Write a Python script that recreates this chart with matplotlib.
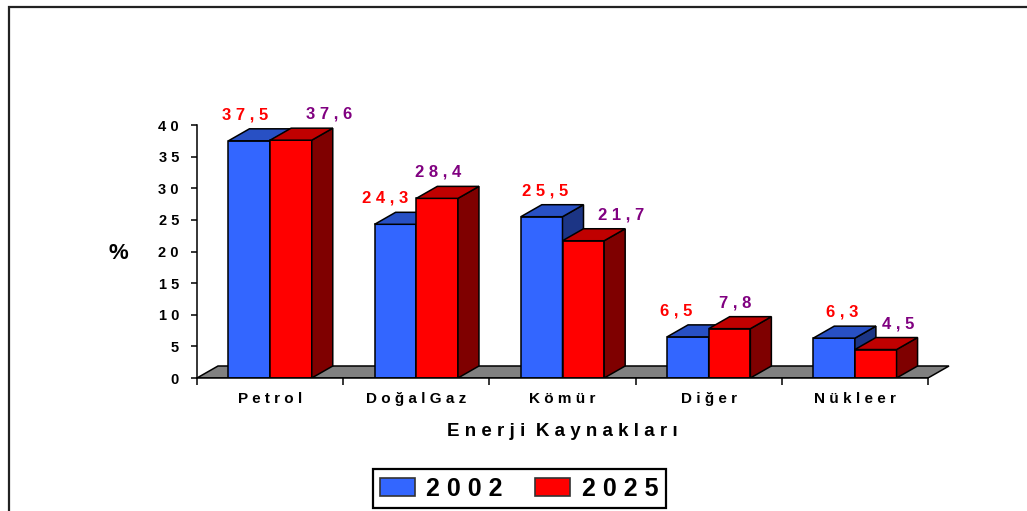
import matplotlib
matplotlib.use('Agg')
import matplotlib.pyplot as plt
from matplotlib.patches import Polygon, Rectangle, Patch
from matplotlib.ticker import FixedLocator, FixedFormatter

# ---------------- data ----------------
categories = ['Petrol', 'Doğal Gaz', 'Kömür', 'Diğer', 'Nükleer']
series_names = ['2002', '2025']
values_2002 = [37.5, 24.3, 25.5, 6.5, 6.3]
values_2025 = [37.6, 28.4, 21.7, 7.8, 4.5]
label_2002 = ['37,5', '24,3', '25,5', '6,5', '6,3']
label_2025 = ['37,6', '28,4', '21,7', '7,8', '4,5']
yticks = [0, 5, 10, 15, 20, 25, 30, 35, 40]
x_title = 'Enerji Kaynakları'
y_title = '%'

# ---------------- style / layout ----------------
plt.rcParams['font.family'] = ['Liberation Sans', 'DejaVu Sans']
plt.rcParams['font.weight'] = 'bold'

W, H = 1027, 511
fig = plt.figure(figsize=(W / 100, H / 100), dpi=100)
fig.patch.set_facecolor('white')

px_per_cat = 146.2
px_per_val = 6.325
xmax, ymax = 5.2, 44
ax = fig.add_axes([197 / W, (H - 378) / H, xmax * px_per_cat / W, ymax * px_per_val / H])
ax.set_xlim(0, xmax)
ax.set_ylim(0, ymax)
ax.set_facecolor('none')

# 3D look constants
depth_x = 21 / px_per_cat
depth_y = 12 / px_per_val
bar_w = 0.285

colors = {
    '2002': dict(front='#3366FF', top='#2850C4', side='#1C3585'),
    '2025': dict(front='#FF0000', top='#C00000', side='#7F0000'),
}
label_colors = {'2002': '#FF0000', '2025': '#800080'}
label_nudge = {'2002': [-4, -10, 3, -12, 8], '2025': [38, 1, 38, 6, 22]}
edge_kw = dict(edgecolor='black', linewidth=1.1)


def spaced(s, word_gap=' '):
    return word_gap.join(' '.join(w) for w in s.split(' '))


# floor
n = len(categories)
floor = Polygon([(0, 0), (n, 0), (n + depth_x, depth_y), (depth_x, depth_y)],
                closed=True, facecolor='#808080', zorder=1, **edge_kw)
ax.add_patch(floor)


def draw_bar(x0, v, c, z):
    ax.bar(x0, v, width=bar_w, align='edge', color=c['front'], zorder=z, **edge_kw)
    top = Polygon([(x0, v), (x0 + bar_w, v), (x0 + bar_w + depth_x, v + depth_y),
                   (x0 + depth_x, v + depth_y)], closed=True,
                  facecolor=c['top'], zorder=z, **edge_kw)
    side = Polygon([(x0 + bar_w, 0), (x0 + bar_w + depth_x, depth_y),
                    (x0 + bar_w + depth_x, v + depth_y), (x0 + bar_w, v)],
                   closed=True, facecolor=c['side'], zorder=z, **edge_kw)
    ax.add_patch(side)
    ax.add_patch(top)


for i in range(n):
    for k, (name, vals, labs) in enumerate([('2002', values_2002, label_2002),
                                            ('2025', values_2025, label_2025)]):
        x0 = i + 0.5 - bar_w + k * bar_w
        draw_bar(x0, vals[i], colors[name], 2 + k)
        ax.annotate(spaced(labs[i]), xy=(x0 + bar_w / 2, vals[i]),
                    xytext=(label_nudge[name][i], 26), textcoords='offset pixels',
                    ha='center', va='center', fontsize=12, fontweight='bold',
                    color=label_colors[name], zorder=10, annotation_clip=False)

# axes styling
for s in ['top', 'right']:
    ax.spines[s].set_visible(False)
ax.spines['left'].set_bounds(0, 40)
ax.spines['bottom'].set_bounds(0, n)
for s in ['left', 'bottom']:
    ax.spines[s].set_linewidth(1.1)
    ax.spines[s].set_zorder(5)

ax.yaxis.set_major_locator(FixedLocator(yticks))
ax.yaxis.set_major_formatter(FixedFormatter([spaced(str(t)) for t in yticks]))
ax.tick_params(axis='y', direction='out', length=4, width=1.1, pad=9,
               labelsize=10.5)

ax.xaxis.set_major_locator(FixedLocator(list(range(n + 1))))
ax.xaxis.set_major_formatter(FixedFormatter([''] * (n + 1)))
ax.xaxis.set_minor_locator(FixedLocator([i + 0.5 for i in range(n)]))
ax.xaxis.set_minor_formatter(FixedFormatter([spaced(c) for c in categories]))
ax.tick_params(axis='x', which='major', direction='out', length=5, width=1.1)
ax.tick_params(axis='x', which='minor', length=0, pad=10, labelsize=11)
for t in ax.get_yticklabels() + ax.get_xticklabels(minor=True):
    t.set_fontweight('bold')

# titles
fig.text(562 / W, (H - 431) / H, spaced(x_title, word_gap='  '), ha='center', va='center',
         fontsize=13.5, fontweight='bold')
fig.text(118 / W, (H - 253) / H, y_title, ha='center', va='center',
         fontsize=16, fontweight='bold')

# legend
handles = [Patch(facecolor=colors[nm]['front'], edgecolor='#333333', linewidth=1.2)
           for nm in series_names]
leg = fig.legend(handles, [spaced(nm) for nm in series_names], loc='center',
                 bbox_to_anchor=(519 / W, (H - 488.5) / H), ncol=2, frameon=True,
                 fancybox=False, framealpha=1, edgecolor='black',
                 prop=dict(weight='bold', size=18), handlelength=1.4,
                 handleheight=0.75, handletextpad=0.45, columnspacing=1.3,
                 borderpad=0.3, borderaxespad=0)
leg.get_frame().set_linewidth(1.6)

# outer chart frame
fig.patches.append(Rectangle((9 / W, -0.1), 1.2, (H - 7) / H + 0.1,
                             transform=fig.transFigure, fill=False,
                             edgecolor='#222222', linewidth=1.6))

fig.savefig('out.png', dpi=100, facecolor='white')
